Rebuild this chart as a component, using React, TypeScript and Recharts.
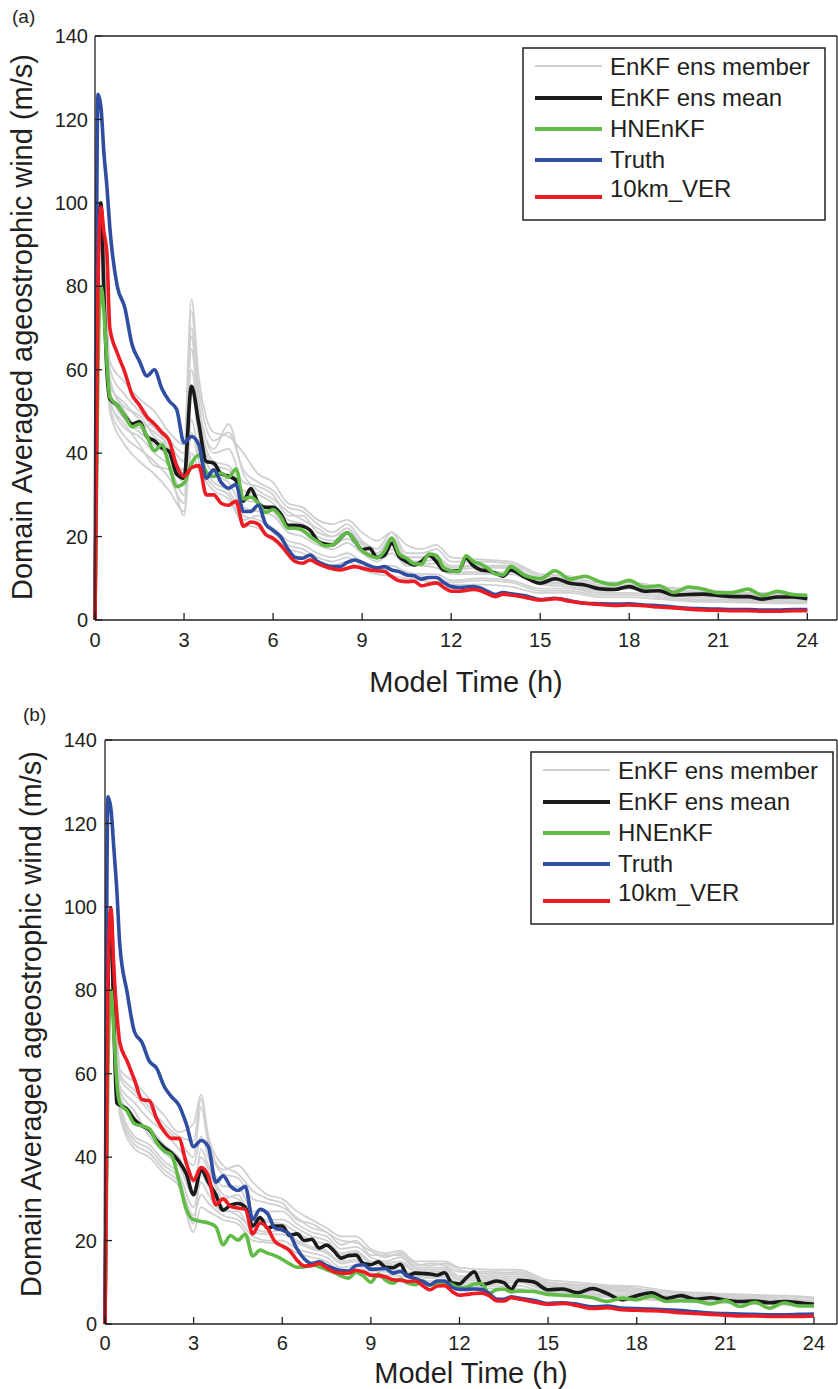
import { LineChart, Line, XAxis, YAxis, Legend } from "recharts";

// model time (h) for the main curves, and the coarser grid for ensemble members
const TIME = [
  0, 0.1, 0.2, 0.3, 0.4, 0.5, 0.75, 1, 1.25, 1.5, 1.75, 2, 2.25, 2.5, 2.75, 3,
  3.25, 3.5, 3.75, 4, 4.25, 4.5, 4.75, 5, 5.25, 5.5, 5.75, 6, 6.25, 6.5, 6.75,
  7, 7.25, 7.5, 7.75, 8, 8.25, 8.5, 8.75, 9, 9.25, 9.5, 9.75, 10, 10.25, 10.5,
  10.75, 11, 11.25, 11.5, 11.75, 12, 12.25, 12.5, 12.75, 13, 13.25, 13.5, 13.75,
  14, 14.5, 15, 15.5, 16, 16.5, 17, 17.5, 18, 18.5, 19, 19.5, 20, 20.5, 21,
  21.5, 22, 22.5, 23, 23.5, 24,
];
const TIME_ENS = [
  0, 0.2, 0.5, 1, 1.5, 2, 2.5, 3, 3.25, 3.5, 4, 4.5, 5, 5.5, 6, 6.5, 7, 7.5, 8,
  8.5, 9, 9.5, 10, 10.5, 11, 11.5, 12, 13, 14, 15, 16, 17, 18, 19, 20, 21, 22,
  23, 24,
];

const X_TICKS = [0, 3, 6, 9, 12, 15, 18, 21, 24];
const Y_TICKS = [0, 20, 40, 60, 80, 100, 120, 140];
const LEGEND_LABELS = ["EnKF ens member", "EnKF ens mean", "HNEnKF", "Truth", "10km_VER"];

// panel (a)
const truthA = [
  0, 126, 123, 112, 104, 94, 80, 75, 66, 62, 58.5, 60, 55.5, 52.5, 50.5, 42.5,
  44, 42, 34, 36, 33, 31.6, 32.5, 26, 26, 27.5, 23, 21.5, 20, 17, 15, 14.8,
  15.6, 14, 13.2, 12.8, 12.8, 13.8, 14.4, 13.8, 13, 12.5, 12.8, 12, 11.6, 10.8,
  10.6, 9.8, 10.2, 10.2, 9, 8, 7.8, 7.9, 8, 7.6, 6.8, 6.1, 6.6, 6.3, 5.8, 4.9,
  5.2, 4.6, 4, 3.9, 3.8, 3.9, 3.6, 3.4, 3.1, 2.8, 2.7, 2.6, 2.5, 2.5, 2.4, 2.4,
  2.5, 2.5,
];
const verA = [
  0, 80, 99, 93, 88, 70, 64, 59.5, 54, 51.5, 48.7, 47, 45, 43, 37, 34.4, 36.5,
  37, 30, 30, 28, 27.5, 28.5, 22.5, 23.5, 23, 20.5, 19.6, 18, 15.8, 14, 13.6,
  14.4, 13.5, 12.8, 12.3, 12, 12.4, 12.8, 12.4, 12, 11.8, 11.6, 10.4, 9.4, 9.2,
  9.3, 8.2, 8.6, 8.9, 7.8, 6.9, 6.9, 7.1, 7.3, 7, 6.2, 5.6, 6.2, 6, 5.4, 4.8,
  5.1, 4.5, 4, 3.7, 3.5, 3.6, 3.4, 3.1, 2.9, 2.6, 2.4, 2.3, 2.2, 2.2, 2.1, 2.1,
  2.2, 2.2,
];
const meanA = [
  0, 85, 100, 78, 60, 53, 51.5, 49, 47, 47.5, 44, 43, 41.3, 40.4, 35, 34, 56,
  47, 38, 37.6, 35, 34.5, 33.5, 28.5, 31.5, 28, 27, 27, 25.5, 22.7, 22.7, 22.5,
  21.5, 19, 18.2, 18, 19.5, 20.9, 19, 16.9, 17.2, 15, 15.5, 18.4, 15.2, 14,
  13.2, 14, 15.6, 14, 12, 11.8, 11.8, 14.8, 13, 12, 11.8, 11.2, 10.5, 12, 10.2,
  8.8, 9.9, 8.8, 8.4, 7.5, 7.3, 8, 6.9, 7, 6, 6.1, 6.2, 5.9, 5.6, 5.6, 5, 5.5,
  5.5, 5.1,
];
const hnA = [
  0, 60, 80, 74, 62, 53.5, 51.5, 49, 46.3, 47, 44, 40.6, 42, 37, 32, 32.8, 37.5,
  39.5, 35.5, 34.4, 35.2, 34.2, 36.2, 29, 29.5, 28, 25.8, 26.5, 24.8, 22, 22,
  21.5, 20, 18.8, 17.8, 18, 19.5, 20.9, 19, 16.6, 15.5, 14.9, 16.5, 19.6, 15.8,
  14.8, 13.5, 13.4, 15.8, 15.5, 12.5, 11.8, 11.6, 15.4, 14, 13.4, 12.3, 11,
  10.8, 12.8, 10.6, 9.9, 11.8, 9.8, 10.5, 9.2, 8.5, 9.5, 7.9, 8.2, 6.6, 7.9,
  7.4, 6.5, 6.6, 7.4, 5.9, 6.9, 6.1, 5.9,
];
const membersA = [
  [0, 100, 62, 57, 53, 50, 45, 42, 77, 58, 45, 44, 40, 35, 33, 28, 27, 24, 23, 24, 21, 19, 21, 18, 17, 18, 15, 14.5, 14, 11, 10.5, 9, 9, 8, 7.5, 7, 6.5, 6.5, 6],
  [0, 100, 50, 42, 38, 35, 31, 26, 40, 36, 31, 29, 23, 22, 19, 17, 16, 14, 13, 14, 12, 11, 10.5, 10, 9.5, 9, 8.5, 8.5, 8, 6.5, 6.5, 5.5, 5.5, 5, 4.5, 4.3, 4.2, 4, 4],
  [0, 100, 56, 52, 48, 45, 42, 38, 70, 52, 40, 41, 33, 32, 30, 25, 25, 21, 20, 22, 18, 16, 20, 15, 15, 15.5, 12.5, 13, 13, 9.5, 9.5, 8, 8.5, 7.5, 6.5, 6.5, 6, 6, 5.5],
  [0, 100, 53, 46, 44, 40, 37, 30, 55, 44, 35, 33, 27, 26, 25, 21, 20, 18, 17, 18.5, 16, 14, 16, 13, 13, 12.5, 11, 11, 11, 8.5, 8, 7, 7.5, 6.5, 5.5, 5.5, 5.2, 5, 4.8],
  [0, 100, 58, 50, 46, 47, 40, 36, 65, 49, 38, 37, 31, 30, 28, 24, 23, 20, 19, 21, 17, 15.5, 18, 14.5, 14, 14.5, 12, 12.5, 12.5, 9, 9, 7.5, 8, 7, 6.3, 6, 5.8, 5.6, 5.3],
  [0, 100, 51, 44, 41, 38, 34, 28, 48, 40, 33, 31, 25, 24, 22, 19, 18, 16, 15, 16, 14, 12.5, 13, 11.5, 11, 11, 9.5, 10, 9.5, 7.5, 7.5, 6.5, 6.5, 6, 5, 5, 4.8, 4.6, 4.5],
  [0, 100, 60, 54, 50, 46, 43, 40, 74, 55, 43, 45, 36, 33, 31, 27, 26, 23, 21, 23, 19, 17, 21, 16, 16, 17, 14, 14, 13.5, 10.5, 10, 8.5, 9, 8, 7, 6.8, 6.4, 6.2, 5.8],
  [0, 100, 55, 48, 45, 42, 39, 33, 60, 47, 37, 36, 29, 28, 26, 22, 21.5, 19, 18, 19.5, 16.5, 15, 17, 13.5, 13.5, 13.5, 11.5, 11.5, 11.5, 8.8, 8.5, 7.2, 7.8, 6.8, 6, 5.8, 5.5, 5.3, 5],
  [0, 100, 52, 47, 42, 37, 36, 25, 45, 38, 32, 30, 24, 25, 21, 18, 17, 15, 14, 15, 13, 12, 12, 11, 10.5, 10, 9, 9.5, 9, 7, 7, 6, 6, 5.5, 4.8, 4.7, 4.5, 4.3, 4.2],
  [0, 100, 57, 51, 49, 44, 41, 35, 68, 50, 41, 47, 35, 31, 29, 26, 24, 22, 20, 21, 18.5, 16, 19, 15, 15, 15, 13, 13, 12.5, 10, 9.5, 8, 8.5, 7.3, 6.7, 6.3, 6, 5.8, 5.6],
];

// panel (b)
const truthB = [
  0, 126.4, 123.5, 114, 104, 91, 79.5, 70, 67.5, 63, 61.3, 57, 54.5, 52.5, 48,
  42.5, 44, 42.5, 34, 35.5, 33, 32, 33, 25, 27.5, 26.5, 23, 22.5, 21.5, 18,
  15.6, 14.5, 14.9, 14, 13.3, 12.8, 12.7, 14, 14.2, 13.1, 13.2, 13.3, 12.2,
  12.6, 11.4, 10.9, 10.2, 9.4, 10.3, 10.3, 8.8, 8.3, 8.3, 8.4, 8.3, 7.3, 6, 5.9,
  6.5, 6.2, 5.7, 4.9, 5.1, 4.7, 4.1, 4.3, 3.8, 3.7, 3.6, 3.4, 3.2, 2.9, 2.6,
  2.5, 2.4, 2.3, 2.2, 2.2, 2.3, 2.4,
];
const verB = [
  0, 82, 99.7, 85, 74.5, 67.5, 63, 58.5, 53.8, 53.5, 49.2, 46.2, 44.5, 44.5,
  38.6, 34.5, 37.5, 35.5, 28.6, 30, 28.2, 27.8, 27.5, 21.6, 24.2, 23, 19.8,
  18.7, 17.6, 15.3, 13.9, 14, 14.5, 13.5, 12.5, 12.2, 12.2, 12.9, 12.5, 11.7,
  11.6, 11.3, 10.6, 10.5, 10.2, 10.3, 9.2, 8.2, 9.1, 9.2, 7.8, 6.9, 7.1, 7.3,
  7.4, 6.8, 5.6, 5.5, 6.3, 6, 5.3, 4.7, 4.9, 4.4, 3.7, 3.9, 3.4, 3.3, 3.2, 3,
  2.7, 2.5, 2.3, 2.1, 1.9, 1.9, 1.8, 1.8, 1.8, 1.9,
];
const meanB = [
  0, 80, 99, 72, 53, 52.5, 51.5, 49, 47.5, 46.5, 44, 42.3, 41, 39, 36, 31, 37,
  34, 31, 27.3, 28.5, 28.9, 28, 23.5, 25.5, 23, 23.5, 23.5, 21.3, 21.6, 20,
  20.3, 18.2, 18.9, 17.5, 15.8, 16.4, 16.5, 14.5, 14.2, 14.9, 13.6, 13.5, 14.3,
  11.6, 12.2, 12.1, 12, 11.7, 12.3, 9.8, 9.6, 11.2, 12.5, 9.5, 9.8, 10.3, 9.9,
  8.3, 10.5, 10.1, 8.2, 8.4, 7.5, 8.5, 7.3, 5.8, 6.8, 7.5, 6.1, 6.8, 5.9, 6.3,
  5.7, 5.4, 5.5, 5.1, 5.4, 5.1, 4.7,
];
const hnB = [
  0, 62, 80, 70, 58, 53, 51, 48, 47.5, 46.8, 43.5, 41.5, 40.5, 34.5, 27.5, 25,
  24.6, 24.2, 23.3, 19, 21.2, 20.1, 21.5, 16.3, 17.7, 17, 16.4, 15.5, 14.4,
  13.6, 13.7, 14.2, 13.7, 13, 12.4, 11.5, 11, 12.4, 11.5, 10, 12, 10.5, 9.8,
  10.8, 9.8, 9.4, 10.3, 9.3, 9.9, 10, 9.4, 8.6, 8.8, 9.6, 9.7, 7.4, 8.2, 8.4,
  7.7, 7.9, 7.8, 7.1, 6.9, 6.7, 6.3, 5.4, 6.2, 5.8, 6.7, 5.4, 5.6, 5.5, 4.8,
  5.6, 4.2, 5.2, 3.8, 5.1, 4.3, 4.3,
];
const membersB = [
  [0, 99, 61, 58, 54, 50, 46, 48, 55, 45, 38, 36, 32, 30, 29, 25, 24, 22, 20, 19.5, 17.5, 16, 17, 14.5, 14, 14.5, 13, 12, 12.5, 10, 9.5, 9, 8.5, 7.5, 7.5, 7, 6.8, 6.6, 6.2],
  [0, 99, 50, 42, 40, 36, 33, 22, 28, 27, 25, 24, 20, 19.5, 19, 17, 16, 15, 12.5, 13, 11.5, 11, 10.5, 10, 9.5, 10, 8.5, 8.5, 8.5, 7, 6.5, 6.5, 6, 5.5, 5.2, 5, 4.8, 4.6, 4.2],
  [0, 99, 57, 53, 49, 46, 42, 38, 45, 40, 33, 33, 27, 27, 27, 24, 22, 21, 18, 18.5, 16, 15, 16, 13.5, 13.5, 13.5, 11.5, 11.5, 12, 9.3, 8.8, 8.5, 8, 7, 6.8, 6.5, 6.3, 6.2, 5.6],
  [0, 99, 53, 45, 43, 39, 36, 28, 34, 31, 27, 27, 22, 21.5, 21.5, 19.5, 18, 17, 14.5, 15, 13, 12.5, 12.5, 11.5, 11, 11.2, 9.5, 9.5, 10, 7.8, 7.3, 7, 6.7, 6.2, 5.7, 5.5, 5.3, 5.1, 4.6],
  [0, 99, 59, 55, 51, 47, 44, 40, 52, 43, 36, 35, 30, 29, 28, 25.5, 23, 22, 19, 20, 16.5, 16.5, 16.5, 14, 14.5, 14, 12.5, 12.5, 12, 9.8, 9.2, 8.8, 8.5, 7.5, 7.2, 6.8, 6.5, 6.8, 6],
  [0, 99, 51, 43, 41, 37, 34, 26, 31, 29, 26, 25, 21, 20, 20, 18, 17, 16, 13.5, 14, 12.2, 11.8, 11.5, 10.8, 10.3, 10.5, 9, 9, 9.2, 7.4, 7, 6.7, 6.3, 5.8, 5.5, 5.2, 5, 4.9, 4.4],
  [0, 99, 55, 49, 47, 43, 40, 34, 40, 37, 30, 31, 25, 24.5, 24, 22, 20, 19, 16.5, 17, 14.5, 14, 14.5, 12.5, 12.5, 12.5, 10.5, 10.5, 11, 8.5, 8, 7.8, 7.3, 6.6, 6.2, 6, 5.8, 5.7, 5.1],
  [0, 99, 60, 56, 52, 48, 45, 44, 54, 44, 37, 38, 34, 31, 30, 27, 25, 23, 21, 21, 18, 17, 17.5, 15, 15, 15, 13.5, 13, 13, 10.5, 10, 9.3, 9, 8, 7.5, 7.2, 7, 6.8, 6.4],
  [0, 99, 52, 44, 42, 38, 35, 24, 36, 33, 28, 26, 23, 22, 22.5, 20, 18.5, 17.5, 15, 15.5, 13.5, 13, 13, 11.8, 11.5, 11.5, 10, 10, 10.5, 8, 7.6, 7.2, 7, 6.4, 5.9, 5.7, 5.5, 5.3, 4.8],
  [0, 99, 56, 51, 45, 41, 38, 31, 42, 38, 31, 30, 26, 25, 25, 23, 21, 20, 17, 17.5, 15, 14.5, 15, 13, 13, 13, 11, 11, 11.5, 9, 8.5, 8.2, 7.7, 6.8, 6.5, 6.3, 6, 5.9, 5.3],
];

const FONT = "'Liberation Sans', Arial, Helvetica, sans-serif";
const INK = "#231f20";
const C_MEMBER = "#cfd0d2";
const C_MEAN = "#1a1a1a";
const C_HN = "#62bb47";
const C_TRUTH = "#2f4ea1";
const C_VER = "#ed1c24";

function buildRows(truth: number[], ver: number[], mean: number[], hn: number[], members: number[][]) {
  return TIME.map((t, i) => {
    const row: Record<string, number> = { t, truth: truth[i], ver: ver[i], mean: mean[i], hn: hn[i] };
    const j = TIME_ENS.indexOf(t);
    if (j >= 0) members.forEach((m, k) => (row[`m${k}`] = m[j]));
    return row;
  });
}

const rowsA = buildRows(truthA, verA, meanA, hnA, membersA);
const rowsB = buildRows(truthB, verB, meanB, hnB, membersB);

// legend rows: line y, text y (matlab puts the last label a bit above its line)
const LEGEND_ROWS = [
  { color: C_MEMBER, sw: 2, lineY: 19, textY: 19 },
  { color: C_MEAN, sw: 4, lineY: 51, textY: 50 },
  { color: C_HN, sw: 4, lineY: 82, textY: 81 },
  { color: C_TRUTH, sw: 4, lineY: 113, textY: 112 },
  { color: C_VER, sw: 4, lineY: 150, textY: 141 },
];

function LegendBox({ w, h }: { w: number; h: number }) {
  return (
    <svg width={w} height={h} style={{ display: "block" }}>
      <rect x={1} y={1} width={w - 2} height={h - 2} fill="#fff" stroke={INK} strokeWidth={1.5} />
      {LEGEND_ROWS.map((r, i) => (
        <g key={i}>
          <line x1={13} x2={80} y1={r.lineY} y2={r.lineY} stroke={r.color} strokeWidth={r.sw} />
          <text x={88} y={r.textY} dominantBaseline="central" fontSize={24} fontFamily={FONT} fill={INK}>
            {LEGEND_LABELS[i]}
          </text>
        </g>
      ))}
    </svg>
  );
}

type PanelProps = {
  rows: Record<string, number>[];
  nMembers: number;
  height: number;
  top: number;
  leftW: number;
  bottomH: number;
  xMax: number;
  yTickMargin: number;
  xTickMargin: number;
  xLabelDy: number;
  yLabelX: number;
  yLabelY: number;
  legendLeft: number;
  legendTop: number;
};

function Panel(p: PanelProps) {
  const tickStyle = { fill: INK, fontSize: 20, fontFamily: FONT };
  const lineProps = { xAxisId: "x", yAxisId: "y", dot: false, isAnimationActive: false, type: "monotone" as const };
  return (
    <LineChart width={838} height={p.height} data={p.rows} margin={{ top: p.top, right: 0, left: 0, bottom: 0 }}>
      <XAxis
        xAxisId="x"
        dataKey="t"
        type="number"
        domain={[0, p.xMax]}
        ticks={X_TICKS}
        interval={0}
        height={p.bottomH}
        tickSize={-7}
        tickMargin={p.xTickMargin}
        stroke={INK}
        strokeWidth={1.3}
        tick={tickStyle}
        label={{
          content: ({ viewBox }: any) => (
            <text x={viewBox.x + viewBox.width / 2} y={viewBox.y + p.xLabelDy} textAnchor="middle" fontSize={29} fontFamily={FONT} fill={INK}>
              Model Time (h)
            </text>
          ),
        }}
      />
      <XAxis xAxisId="top" orientation="top" dataKey="t" type="number" domain={[0, p.xMax]} ticks={X_TICKS} interval={0} height={1} tickSize={-7} tick={false} stroke={INK} strokeWidth={1.3} />
      <YAxis
        yAxisId="y"
        type="number"
        domain={[0, 140]}
        ticks={Y_TICKS}
        interval={0}
        width={p.leftW}
        tickSize={-7}
        tickMargin={p.yTickMargin}
        stroke={INK}
        strokeWidth={1.3}
        tick={tickStyle}
        label={{
          content: () => (
            <text x={p.yLabelX} y={p.yLabelY} transform={`rotate(-90, ${p.yLabelX}, ${p.yLabelY})`} textAnchor="middle" fontSize={29} fontFamily={FONT} fill={INK}>
              Domain Averaged ageostrophic wind (m/s)
            </text>
          ),
        }}
      />
      <YAxis yAxisId="r" orientation="right" type="number" domain={[0, 140]} ticks={Y_TICKS} interval={0} width={1} tickSize={-7} tick={false} stroke={INK} strokeWidth={1.3} />
      {Array.from({ length: p.nMembers }, (_, k) => (
        <Line key={k} {...lineProps} dataKey={`m${k}`} stroke={C_MEMBER} strokeWidth={1.8} connectNulls />
      ))}
      <Line {...lineProps} dataKey="mean" stroke={C_MEAN} strokeWidth={3.6} />
      <Line {...lineProps} dataKey="hn" stroke={C_HN} strokeWidth={3.6} />
      <Line {...lineProps} dataKey="truth" stroke={C_TRUTH} strokeWidth={3.6} />
      <Line {...lineProps} dataKey="ver" stroke={C_VER} strokeWidth={3.6} />
      <Legend
        layout="vertical"
        align="center"
        verticalAlign="middle"
        wrapperStyle={{ left: p.legendLeft, top: p.legendTop, width: 304, height: 174 }}
        content={() => <LegendBox w={304} h={174} />}
      />
    </LineChart>
  );
}

export default function App() {
  return (
    <div style={{ position: "absolute", left: 0, top: 0, width: 838, height: 1389, background: "#fff" }}>
      <span style={{ position: "absolute", left: 12, top: 6, fontSize: 19, fontFamily: FONT, color: INK }}>(a)</span>
      <div style={{ position: "absolute", left: 0, top: 0 }}>
        <Panel
          rows={rowsA}
          nMembers={membersA.length}
          height={700}
          top={35}
          leftW={95}
          bottomH={80}
          xMax={25}
          yTickMargin={14}
          xTickMargin={20}
          xLabelDy={72}
          yLabelX={32}
          yLabelY={327}
          legendLeft={522}
          legendTop={47}
        />
      </div>
      <span style={{ position: "absolute", left: 23, top: 704, fontSize: 19, fontFamily: FONT, color: INK }}>(b)</span>
      <div style={{ position: "absolute", left: 0, top: 700 }}>
        <Panel
          rows={rowsB}
          nMembers={membersB.length}
          height={689}
          top={39}
          leftW={105}
          bottomH={65}
          xMax={24.78}
          yTickMargin={15}
          xTickMargin={19}
          xLabelDy={59}
          yLabelX={41}
          yLabelY={324}
          legendLeft={530}
          legendTop={51}
        />
      </div>
    </div>
  );
}
